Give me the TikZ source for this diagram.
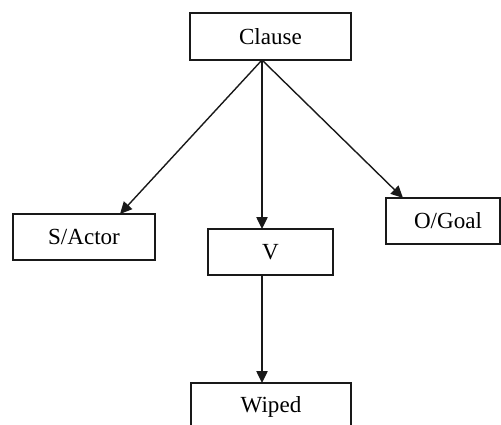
\documentclass[tikz,border=0pt]{standalone}
\usepackage{fontspec}
\setmainfont{Liberation Serif}
\usetikzlibrary{arrows.meta}
\begin{document}
\begin{tikzpicture}[x=0.75pt,y=-0.75pt,
  box/.style={draw=black!90, line width=1.05pt, rectangle, inner sep=0pt,
    font=\fontsize{17.3}{20}\selectfont},
  conn/.style={draw=black!90, line width=1.05pt, -{Triangle[length=9pt,width=8.5pt]}}]
\useasboundingbox (0,0) rectangle (501,425);
\clip (0,0) rectangle (501,425);
\node[box, minimum width=0.75*161pt, minimum height=0.75*47pt] (cl) at (270.5,36.5) {Clause};
\node[box, minimum width=0.75*142pt, minimum height=0.75*46pt] (sa) at (84,237) {S/Actor};
\node[box, minimum width=0.75*114pt, minimum height=0.75*46pt] (og) at (443,221) {\hspace*{7.5pt}O/Goal};
\node[box, minimum width=0.75*125pt, minimum height=0.75*46pt] (v) at (270.5,252) {V};
\node[box, minimum width=0.75*160pt, minimum height=0.75*47pt] (w) at (271,406.5) {Wiped};
\coordinate (cs) at (262,60);
\coordinate (sat) at (120,214);
\coordinate (ogt) at (403,198);
\coordinate (vt) at (262,229);
\coordinate (vb) at (262,275);
\coordinate (wt) at (262,383);
\draw[conn] (cs) -- (sat);
\draw[conn] (cs) -- (ogt);
\draw[conn] (cs) -- (vt);
\draw[conn] (vb) -- (wt);
\end{tikzpicture}
\end{document}
